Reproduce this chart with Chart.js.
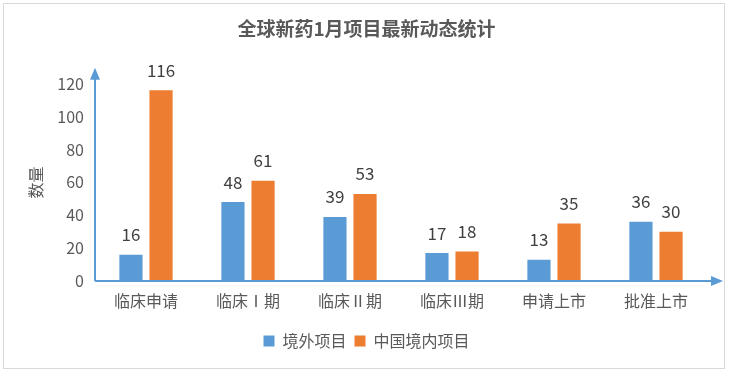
<!DOCTYPE html>
<html>
<head>
<meta charset="utf-8">
<script src="https://cdn.jsdelivr.net/npm/chart.js@4/dist/chart.umd.min.js"></script>
<style>
  html, body { margin: 0; padding: 0; background: #fff; }
  #wrap { width: 730px; height: 374px; }
</style>
</head>
<body>
<div id="wrap"><canvas id="chart" width="730" height="374"></canvas></div>
<script>
// chart data
const categories = ['临床申请', '临床Ⅰ期', '临床Ⅱ期', '临床Ⅲ期', '申请上市', '批准上市'];
const overseas = [16, 48, 39, 17, 13, 36];
const domestic = [116, 61, 53, 18, 35, 30];
const seriesNames = ['境外项目', '中国境内项目'];
const yTicks = [0, 20, 40, 60, 80, 100, 120];

const FONT = '"Noto Sans CJK SC", "Noto Sans", sans-serif';
const AXIS_BLUE = '#5b9bd5';

// frame, axis arrows and value labels
const decorations = {
    id: 'decorations',
    beforeDraw(chart) {
        const ctx = chart.ctx;
        ctx.save();
        ctx.strokeStyle = '#d9d9d9';
        ctx.lineWidth = 1;
        ctx.strokeRect(3.5, 3.5, 721, 365);
        ctx.restore();
    },
    afterDatasetsDraw(chart) {
        const ctx = chart.ctx;
        const area = chart.chartArea;
        ctx.save();
        // axis lines
        ctx.strokeStyle = AXIS_BLUE;
        ctx.fillStyle = AXIS_BLUE;
        ctx.lineWidth = 2;
        ctx.beginPath();
        ctx.moveTo(area.left, area.bottom);
        ctx.lineTo(area.left, area.top - 6);
        ctx.moveTo(area.left, area.bottom);
        ctx.lineTo(area.right + 6, area.bottom);
        ctx.stroke();
        // arrow heads
        ctx.beginPath();
        ctx.moveTo(area.left, area.top - 16);
        ctx.lineTo(area.left - 5, area.top - 4);
        ctx.lineTo(area.left + 5, area.top - 4);
        ctx.closePath();
        ctx.fill();
        ctx.beginPath();
        ctx.moveTo(area.right + 16, area.bottom);
        ctx.lineTo(area.right + 4, area.bottom - 5);
        ctx.lineTo(area.right + 4, area.bottom + 5);
        ctx.closePath();
        ctx.fill();
        // value labels
        ctx.fillStyle = '#404040';
        ctx.font = '17px ' + FONT;
        ctx.textAlign = 'center';
        ctx.textBaseline = 'middle';
        chart.data.datasets.forEach((ds, i) => {
            chart.getDatasetMeta(i).data.forEach((bar, j) => {
                ctx.fillText(String(ds.data[j]), bar.x, bar.y - 20);
            });
        });
        ctx.restore();
    }
};

new Chart(document.getElementById('chart'), {
    type: 'bar',
    data: {
        labels: categories,
        datasets: [
            { label: seriesNames[0], data: overseas, backgroundColor: '#5b9bd5' },
            { label: seriesNames[1], data: domestic, backgroundColor: '#ed7d31' }
        ]
    },
    options: {
        responsive: false,
        animation: false,
        events: [],
        layout: { padding: { left: 26, right: 23, top: 0, bottom: 15 } },
        categoryPercentage: 0.59,
        barPercentage: 0.77,
        plugins: {
            title: {
                display: true,
                text: '全球新药1月项目最新动态统计',
                color: '#595959',
                font: { family: FONT, size: 19, weight: 'bold' },
                padding: { top: 17, bottom: 44 }
            },
            legend: {
                position: 'bottom',
                labels: {
                    color: '#595959',
                    font: { family: FONT, size: 16 },
                    boxWidth: 11,
                    boxHeight: 11,
                    padding: 8
                }
            },
            tooltip: { enabled: false }
        },
        scales: {
            x: {
                grid: { display: false, drawTicks: false },
                border: { display: false },
                ticks: {
                    color: '#595959',
                    font: { family: FONT, size: 16 },
                    padding: 10
                },
                afterFit(scale) { scale.height = 44; }
            },
            y: {
                min: 0,
                max: 120,
                grid: { display: false, drawTicks: false },
                border: { display: false },
                title: {
                    display: true,
                    text: '数量',
                    color: '#595959',
                    font: { family: FONT, size: 16 },
                    padding: 0
                },
                ticks: {
                    stepSize: 20,
                    color: '#595959',
                    font: { family: FONT, size: 16 },
                    padding: 11
                },
                afterBuildTicks(scale) {
                    scale.ticks = yTicks.map(v => ({ value: v }));
                },
                afterFit(scale) { scale.width = 69; }
            }
        }
    },
    plugins: [decorations]
});
</script>
</body>
</html>
